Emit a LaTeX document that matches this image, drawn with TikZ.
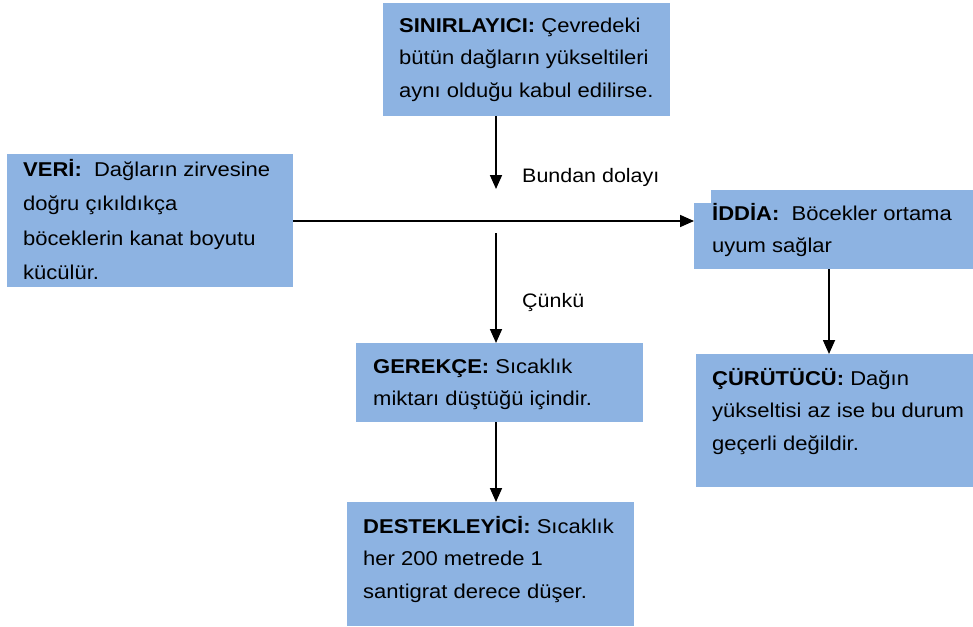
\documentclass[tikz,border=0pt]{standalone}
\usepackage{fontspec}
\setmainfont{Liberation Sans}[FakeStretch=1.1]
\usetikzlibrary{arrows.meta}

\definecolor{boxblue}{HTML}{8DB3E2}

\tikzset{
  box/.style={fill=boxblue, draw=none, anchor=north west, inner sep=0pt, outer sep=0pt},
  % multi-line texts are placed by the baseline of their last line
  txt/.style={anchor=base west, align=left, inner sep=0pt,
    font=\fontsize{20}{32.5}\selectfont},
  lbl/.style={anchor=base west, inner sep=0pt, font=\fontsize{19.5}{24}\selectfont},
  arr/.style={line width=1.7pt, -{Triangle[length=14pt,width=12pt]}},
}

\begin{document}
\begin{tikzpicture}[x=1pt, y=-1pt]
  \useasboundingbox (0,0) rectangle (973,626);

  % boxes
  \node[box, minimum width=287pt, minimum height=113pt] (lim) at (383,3) {};
  \node[box, minimum width=286pt, minimum height=133pt] (veri) at (7,154) {};
  \node[box, minimum width=279pt, minimum height=79pt] (iddia) at (694,190) {};
  \fill[white] (694,190) rectangle (711,203);
  \node[box, minimum width=287pt, minimum height=79pt] (gerekce) at (356,343) {};
  \node[box, minimum width=277pt, minimum height=133pt] (curut) at (696,354) {};
  \node[box, minimum width=287pt, minimum height=124pt] (destek) at (347,502) {};

  % texts
  \node[txt] (limT) at (399,97) {\textbf{SINIRLAYICI:} Çevredeki\\bütün dağların yükseltileri\\aynı olduğu kabul edilirse.};
  \node[txt, font=\fontsize{20}{34.5}\selectfont] (veriT) at (23,279.5) {\textbf{VERİ:}\ \ Dağların zirvesine\\doğru çıkıldıkça\\böceklerin kanat boyutu\\kücülür.};
  \node[txt] (iddiaT) at (712,252.5) {\textbf{İDDİA:}\ \ Böcekler ortama\\uyum sağlar};
  \node[txt] (gerekceT) at (373,405.5) {\textbf{GEREKÇE:} Sıcaklık\\miktarı düştüğü içindir.};
  \node[txt] (curutT) at (712,450) {\textbf{ÇÜRÜTÜCÜ:} Dağın\\yükseltisi az ise bu durum\\geçerli değildir.};
  \node[txt] (destekT) at (363,598) {\textbf{DESTEKLEYİCİ:} Sıcaklık\\her 200 metrede 1\\santigrat derece düşer.};

  % connector labels
  \node[lbl] (bundan) at (522,182) {Bundan dolayı};
  \node[lbl] (cunku) at (522,307) {Çünkü};

  % connectors
  \coordinate (limEnd) at (496,189);
  \coordinate (hline) at (0,221);
  \coordinate (reasonStart) at (496,233);
  \coordinate (rightCol) at (829,0);

  \draw[arr] (lim.south -| limEnd) -- (limEnd);
  \draw[arr] (veri.east |- hline) -- (iddia.west |- hline);
  \draw[arr] (reasonStart) -- (gerekce.north -| reasonStart);
  \draw[arr] (gerekce.south -| reasonStart) -- (destek.north -| reasonStart);
  \draw[arr] (iddia.south -| rightCol) -- (curut.north -| rightCol);
\end{tikzpicture}
\end{document}
